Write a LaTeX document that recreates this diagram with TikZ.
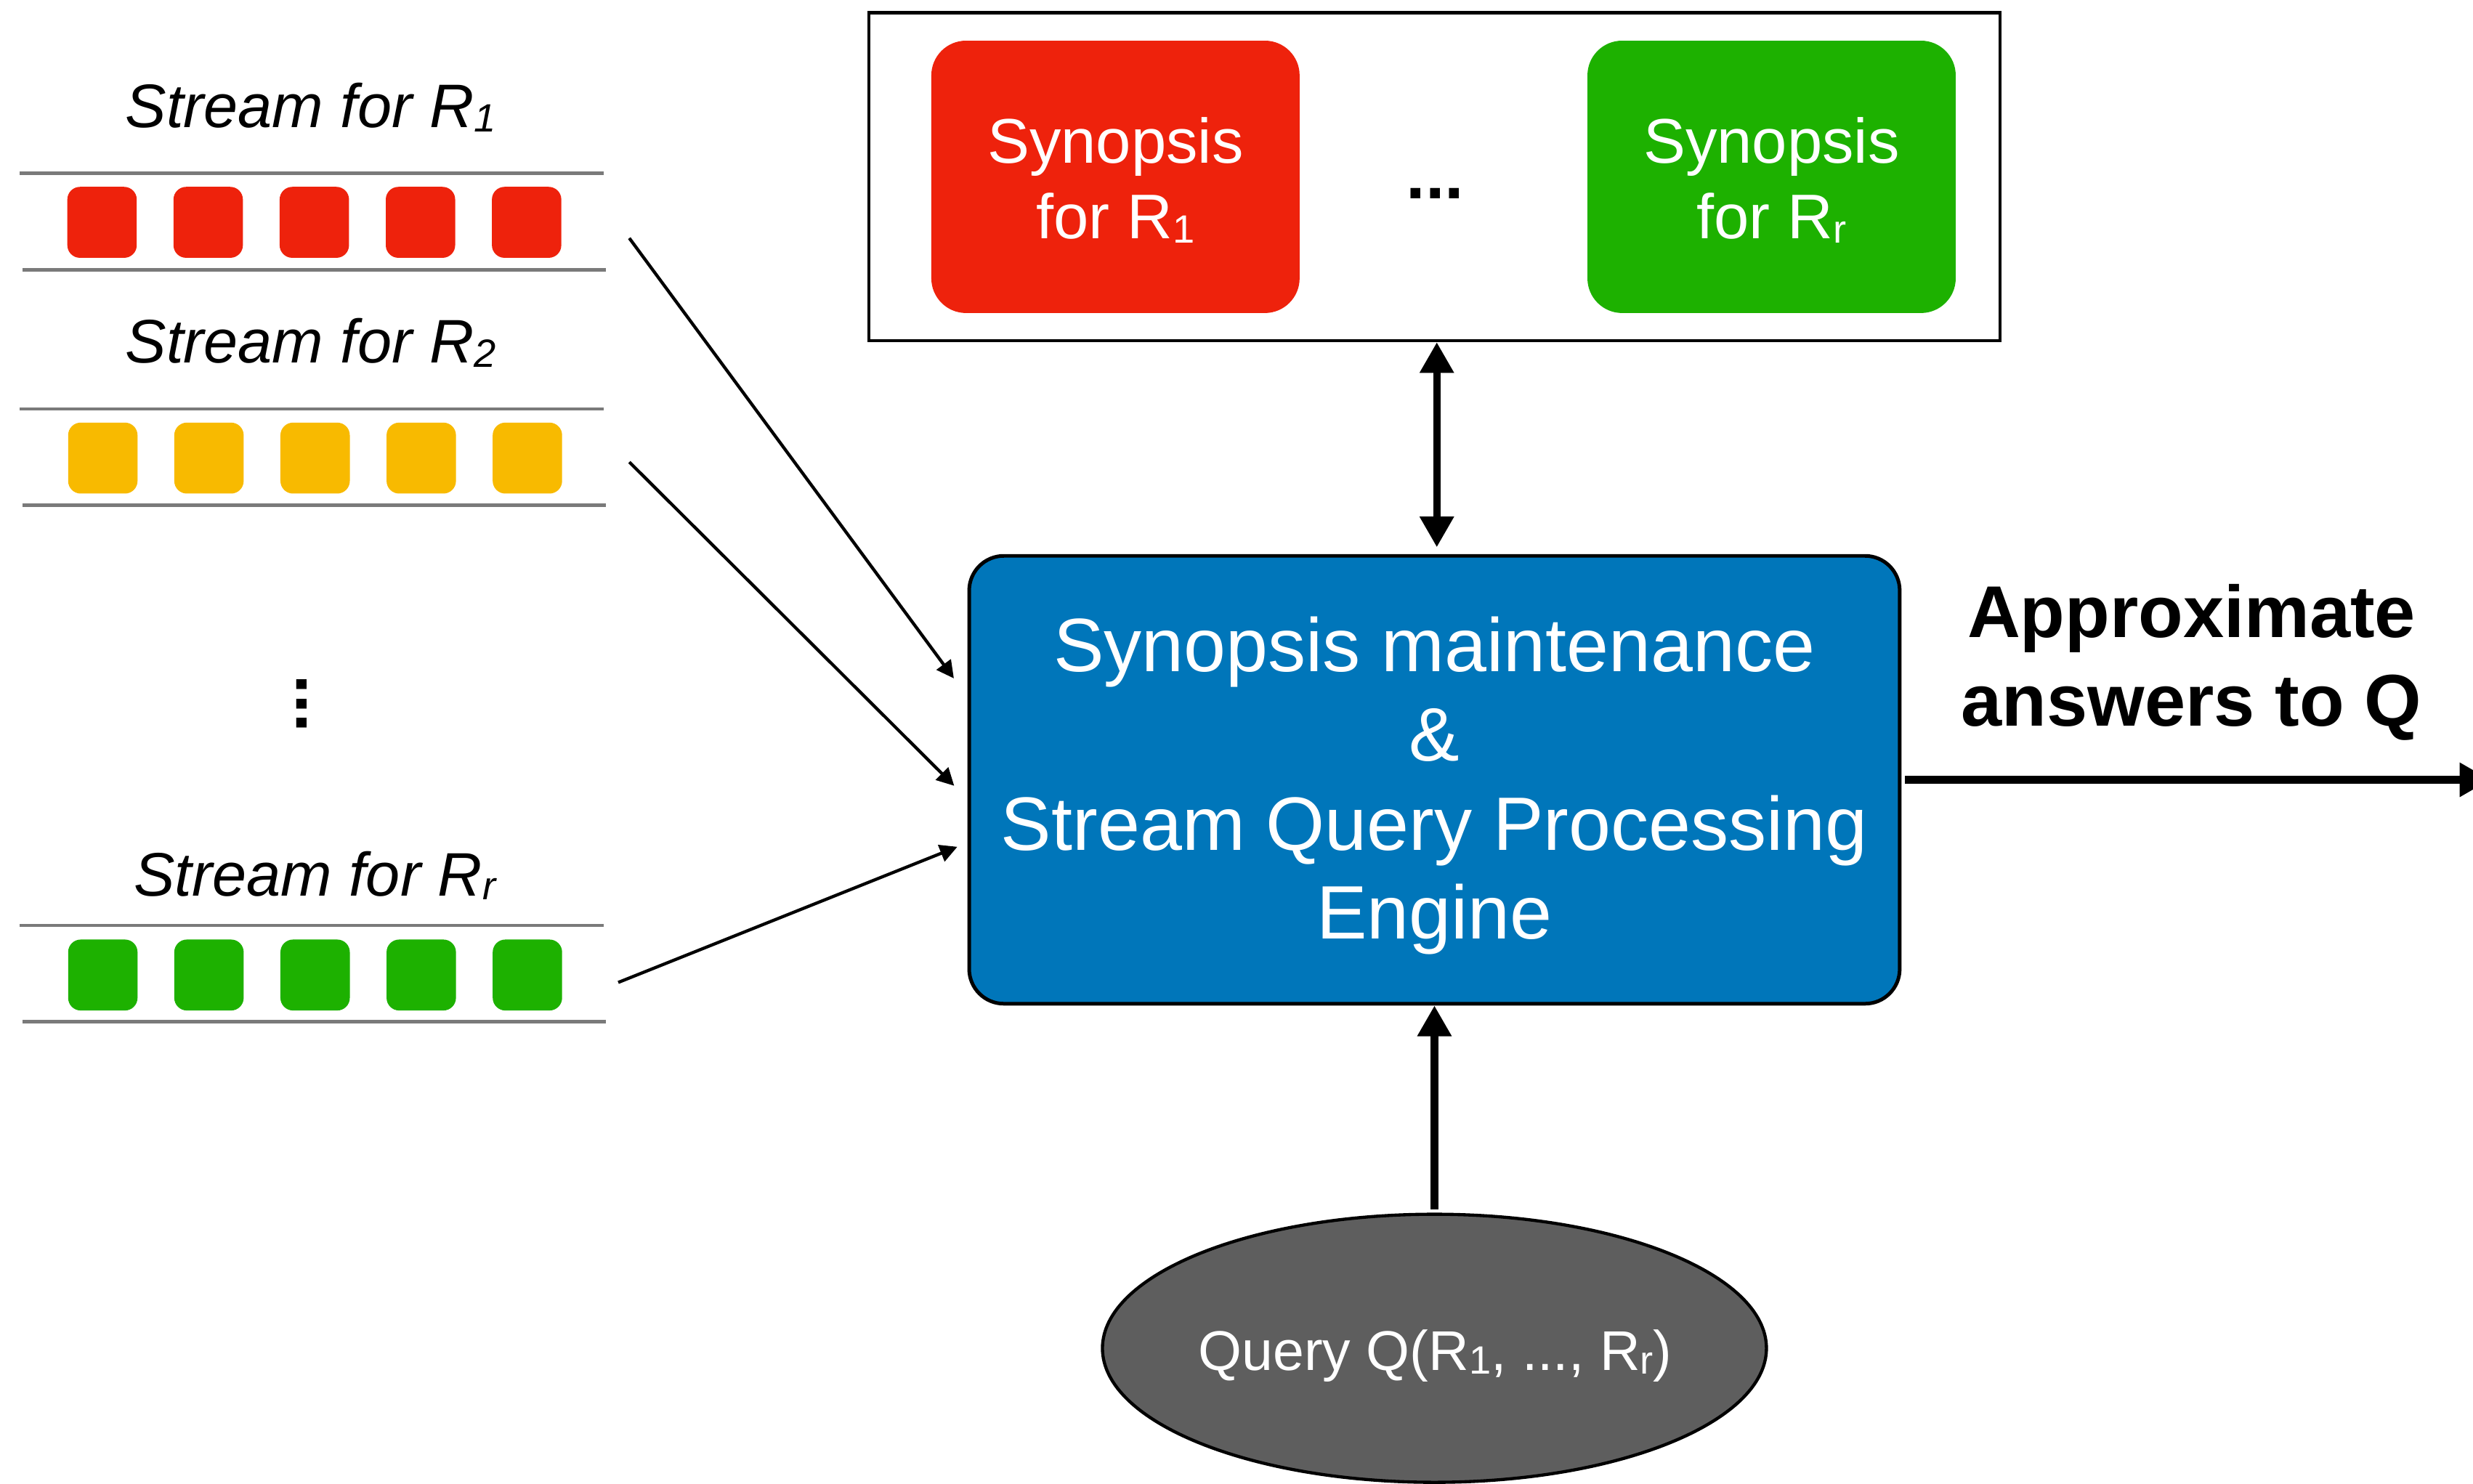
\documentclass[tikz,border=0pt]{standalone}
\usepackage{fontspec}
\setmainfont{Liberation Sans}
\usetikzlibrary{arrows.meta,shapes.geometric}
\definecolor{kred}{HTML}{EE220C}
\definecolor{kyellow}{HTML}{F8BA00}
\definecolor{kgreen}{HTML}{1DB100}
\definecolor{kblue}{HTML}{0076BA}
\definecolor{kgray}{HTML}{5E5E5E}
\definecolor{lgray}{HTML}{7A7A7A}
\newcommand\mysub[1]{\raisebox{-2.5pt}{\fontsize{25}{25}\selectfont #1}}
\begin{document}
\begin{tikzpicture}[x=1pt,y=-1pt,
  streamline/.style={draw=lgray, line width=2.2pt},
  item/.style={rectangle, rounded corners=8pt, minimum width=44pt, minimum height=45pt, inner sep=0pt},
  streamlab/.style={anchor=base, font=\fontsize{39}{47}\selectfont\itshape, inner sep=0pt},
  synbox/.style={rectangle, rounded corners=22pt, minimum width=233.5pt, minimum height=172.7pt, text=white, font=\fontsize{40}{48}\selectfont, align=center, inner sep=0pt},
  feed/.style={line width=2pt, -{Triangle[length=11pt,width=11pt]}},
  bigarrow/.style={line width=4.8pt, -{Triangle[length=19.5pt,width=20.6pt]}},
  dots/.style={font=\fontsize{44}{44}\selectfont\bfseries, inner sep=0pt}
]
\useasboundingbox (0,0) rectangle (1568,941);

% streams
\draw[streamline] (12.4,109.8) -- (382.7,109.8);
\draw[streamline] (14.3,171) -- (384,171);
\draw[streamline] (12.4,259.3) -- (382.7,259.3);
\draw[streamline] (14.3,320.5) -- (384,320.5);
\draw[streamline] (12.4,586.8) -- (382.7,586.8);
\draw[streamline] (14.3,648) -- (384,648);
\foreach \i in {0,...,4}{
  \node[item, fill=kred] (r\i) at ({64.7+67.3*\i},141) {};
  \node[item, fill=kyellow] (y\i) at ({65.2+67.3*\i},290.5) {};
  \node[item, fill=kgreen] (g\i) at ({65.2+67.3*\i},618.3) {};
}
\node[streamlab] (l1) at (197,81) {Stream for R\mysub{1}};
\node[streamlab] (l2) at (197,230.3) {Stream for R\mysub{2}};
\node[streamlab] (lr) at (199.5,568) {Stream for R\mysub{r}};
\node[dots, rotate=90] (vd) at (191.2,446.3) {...};

% synopsis store
\node[draw, line width=2pt, minimum width=717pt, minimum height=208pt, inner sep=0pt] (top) at (909.5,112) {};
\node[synbox, fill=kred] (syn1) at (707.25,112.15) {\rule{0pt}{33pt}Synopsis\\for R\mysub{1}};
\node[synbox, fill=kgreen] (synr) at (1123.25,112.15) {\rule{0pt}{33pt}Synopsis\\for R\mysub{r}};
\node[dots, anchor=base] (hd) at (910,126) {...};

% engine
\node[draw, line width=2.3pt, fill=kblue, rounded corners=22pt, minimum width=590pt, minimum height=284pt,
  text=white, align=center, font=\fontsize{48}{56.5}\selectfont, inner sep=0pt] (engine) at (909.5,494.5)
  {\rule{0pt}{42.6pt}Synopsis maintenance\\\&\\Stream Query Processing\\Engine};

% answers
\node[font=\fontsize{46.5}{56}\selectfont\bfseries, align=center, inner sep=0pt] (ans) at (1389.5,420) {Approximate\\answers to Q};
\coordinate (outend) at (1579,494.5);

% query
\node[ellipse, draw, line width=2pt, fill=kgray, minimum width=421pt, minimum height=170pt, inner sep=0pt] (q) at (909.5,855) {};
\node[anchor=base, text=white, font=\fontsize{35.5}{40}\selectfont, inner sep=0pt] (qt) at (910,869) {Query Q(R\mysub{1}, ..., R\mysub{r})};

% connectors
\coordinate (s1) at (399,151);
\coordinate (s2) at (399,293);
\coordinate (s3) at (392,623);
\coordinate (t1) at (604.8,430.2);
\coordinate (t2) at (605,498.3);
\coordinate (t3) at (607,537);
\draw[feed] (s1) -- (t1);
\draw[feed] (s2) -- (t2);
\draw[feed] (s3) -- (t3);
\draw[line width=4.8pt, {Triangle[length=19.5pt,width=20.6pt]}-{Triangle[length=19.5pt,width=20.6pt]}, shorten >=4.3pt] ([xshift=1.5pt]top.south) -- ([xshift=1.5pt]engine.north);
\draw[bigarrow, shorten <=2.2pt] (q.north) -- (engine.south);
\draw[bigarrow, shorten <=2.3pt] (engine.east) -- (outend);
\end{tikzpicture}
\end{document}
